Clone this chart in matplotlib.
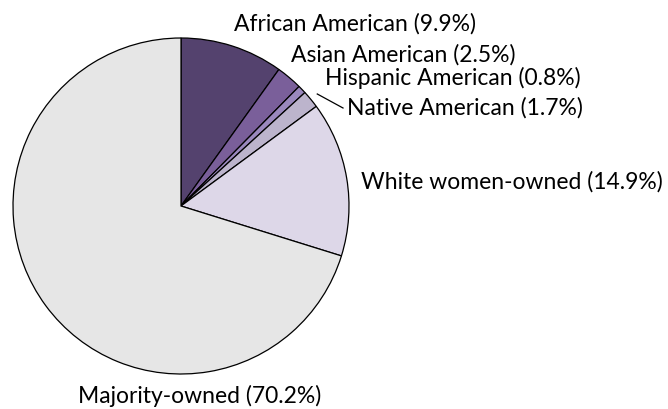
import matplotlib
matplotlib.use("Agg")
import matplotlib.pyplot as plt
import numpy as np

labels = ["African American", "Asian American", "Hispanic American",
          "Native American", "White women-owned", "Majority-owned"]
shares = [9.9, 2.5, 0.8, 1.7, 14.9, 70.2]
colors = ["#54426e", "#7a5f9a", "#9a88bd", "#bcb4cc", "#ddd7e8", "#e6e6e6"]

plt.rcParams["font.family"] = ["Lato", "DejaVu Sans"]

W, H = 668, 409
fig = plt.figure(figsize=(W / 100, H / 100), dpi=100)
cx, cy, r = 181, 206, 168
ax = fig.add_axes([(cx - r) / W, (H - cy - r) / H, 2 * r / W, 2 * r / H])

ax.pie(shares, colors=colors, startangle=90, counterclock=False, radius=1,
       wedgeprops=dict(edgecolor="black", linewidth=0.9))
ax.set_xlim(-1, 1)
ax.set_ylim(-1, 1)
ax.set_aspect("equal")
ax.axis("off")

def px(x, y):
    return (x - cx) / r, (cy - y) / r

# label anchors: x and text baseline in figure pixels
anchors = [(234, 31, "left"), (291, 62, "left"), (325, 85, "left"),
           (347, 115, "left"), (361, 189, "left"), (200, 403, "center")]
fs = 16.5
for lab, val, (x, y, ha) in zip(labels, shares, anchors):
    tx, ty = px(x, y)
    ax.text(tx, ty, f"{lab} ({val}%)", ha=ha, va="baseline", fontsize=fs,
            color="black", clip_on=False)

# leader line for the thin Native American slice
cum = np.cumsum([0] + shares)
mid = (cum[3] + cum[4]) / 2 / 100 * 360
ang = np.deg2rad(90 - mid)
p0 = (1.05 * np.cos(ang), 1.05 * np.sin(ang))
p1 = px(343, 108)
ax.plot([p0[0], p1[0]], [p0[1], p1[1]], color="black", lw=0.9, clip_on=False)

fig.savefig("out.png", dpi=100, facecolor="white")
